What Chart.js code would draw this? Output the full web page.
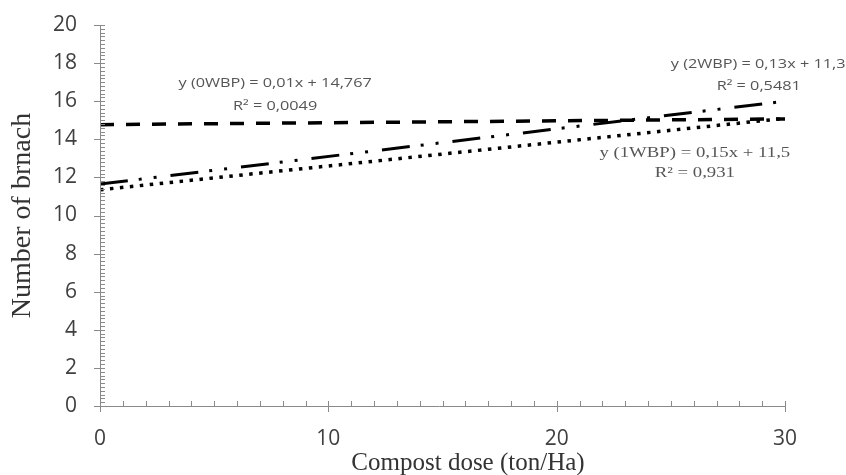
<!DOCTYPE html>
<html>
<head>
<meta charset="utf-8">
<script src="https://cdn.jsdelivr.net/npm/chart.js@4.4.1/dist/chart.umd.min.js"></script>
<style>
  html, body { margin: 0; padding: 0; background: #fff; }
  #wrap { width: 846px; height: 475px; position: relative; }
</style>
</head>
<body>
<div id="wrap"><canvas id="chart"></canvas></div>
<script>
// compost dose (ton/Ha) at the ends of each trend line
var doses = [0, 30];
// trend line values
var wbp0 = [14.77, 15.07];
var wbp1 = [11.35, 15.1];
var wbp2 = [11.65, 16.0];

var yTicks = [0, 2, 4, 6, 8, 10, 12, 14, 16, 18, 20];
var xTicks = [0, 10, 20, 30];

// equation labels: [text, x value, y value, align, font]
var labels = [
  ['y (0WBP) = 0,01x + 14,767', 7.67, 16.95, 'center', '13px "Open Sans"'],
  ['R² = 0,0049', 7.67, 15.75, 'center', '13px "Open Sans"'],
  ['y (2WBP) = 0,13x + 11,3', 25.0, 17.95, 'left', '13px "Open Sans"'],
  ['R² = 0,5481', 28.85, 16.8, 'center', '13px "Open Sans"'],
  ['y (1WBP) = 0,15x + 11,5', 26.05, 13.3, 'center', '15px "Liberation Serif"'],
  ['R² = 0,931', 26.05, 12.25, 'center', '15px "Liberation Serif"']
];

function pts(ys) {
  return doses.map(function (d, i) { return { x: d, y: ys[i] }; });
}

var axisColor = '#8a8a8a';

var extras = {
  id: 'extras',
  afterDatasetsDraw: function (chart) {
    var c = chart.ctx, xs = chart.scales.x, ys = chart.scales.y;
    var x0 = xs.getPixelForValue(0), y0 = ys.getPixelForValue(0);
    c.save();
    c.strokeStyle = axisColor;
    c.lineWidth = 1;
    c.beginPath();
    // y axis with minor ticks
    c.moveTo(x0 + 0.5, ys.getPixelForValue(20));
    c.lineTo(x0 + 0.5, y0 + 6);
    for (var v = 0; v <= 20.001; v += 0.2) {
      var p = Math.round(ys.getPixelForValue(v)) + 0.5;
      var major = Math.abs(v / 2 - Math.round(v / 2)) < 0.01;
      c.moveTo(major ? x0 - 6 : x0, p);
      c.lineTo(x0 + 5, p);
    }
    // x axis with minor ticks
    c.moveTo(x0 - 6, Math.round(y0) + 0.5);
    c.lineTo(xs.getPixelForValue(30), Math.round(y0) + 0.5);
    for (var u = 0; u <= 30.001; u += 1) {
      var q = Math.round(xs.getPixelForValue(u)) + 0.5;
      var maj = u % 10 === 0;
      c.moveTo(q, y0 - 5);
      c.lineTo(q, maj ? y0 + 6 : y0);
    }
    c.stroke();
    c.restore();
  },
  afterDraw: function (chart) {
    var c = chart.ctx, xs = chart.scales.x, ys = chart.scales.y;
    labels.forEach(function (l) {
      c.save();
      c.fillStyle = '#555';
      c.textBaseline = 'middle';
      c.font = l[4];
      c.textAlign = l[3];
      c.translate(xs.getPixelForValue(l[1]), ys.getPixelForValue(l[2]));
      c.scale(1.25, 1);
      c.fillText(l[0], 0, 0);
      c.restore();
    });
    // x axis title, sits a little right of the plot centre
    c.save();
    c.fillStyle = '#333';
    c.font = '25px "Liberation Serif"';
    c.textAlign = 'center';
    c.textBaseline = 'middle';
    c.fillText('Compost dose (ton/Ha)', 468, 463);
    c.restore();
  }
};

new Chart(document.getElementById('chart'), {
  type: 'scatter',
  data: {
    datasets: [
      {
        label: '0WBP', data: pts(wbp0), showLine: true, pointRadius: 0,
        borderColor: '#000', borderWidth: 3.5, borderDash: [14, 12], borderCapStyle: 'butt'
      },
      {
        label: '1WBP', data: pts(wbp1), showLine: true, pointRadius: 0,
        borderColor: '#000', borderWidth: 3.5, borderDash: [3.5, 6.5], borderCapStyle: 'butt'
      },
      {
        label: '2WBP', data: pts(wbp2), showLine: true, pointRadius: 0,
        borderColor: '#000', borderWidth: 3, borderDash: [28, 11, 3, 12, 3, 14], borderCapStyle: 'butt'
      }
    ]
  },
  options: {
    responsive: true,
    maintainAspectRatio: false,
    animation: false,
    layout: { padding: { top: 25, right: 61, left: 0, bottom: 0 } },
    plugins: { legend: { display: false }, tooltip: { enabled: false } },
    scales: {
      x: {
        type: 'linear', min: 0, max: 30,
        afterBuildTicks: function (s) { s.ticks = xTicks.map(function (v) { return { value: v }; }); },
        afterFit: function (s) { s.height = 69; s.paddingLeft = 0; s.paddingRight = 0; },
        border: { display: false },
        grid: { display: false, drawTicks: false },
        ticks: { color: '#404040', font: { family: 'Open Sans', size: 21 }, padding: 20, maxRotation: 0 },
        title: { display: false }
      },
      y: {
        type: 'linear', min: 0, max: 20,
        afterBuildTicks: function (s) { s.ticks = yTicks.map(function (v) { return { value: v }; }); },
        afterFit: function (s) { s.width = 100; s.paddingTop = 0; s.paddingBottom = 0; },
        border: { display: false },
        grid: { display: false, drawTicks: false },
        ticks: { color: '#404040', font: { family: 'Open Sans', size: 21 }, padding: 23 },
        title: {
          display: true, text: 'Number of brnach', color: '#333',
          font: { family: 'Liberation Serif', size: 28, lineHeight: 1 }, padding: { top: 9, bottom: 0 }
        }
      }
    }
  },
  plugins: [extras]
});
</script>
</body>
</html>
